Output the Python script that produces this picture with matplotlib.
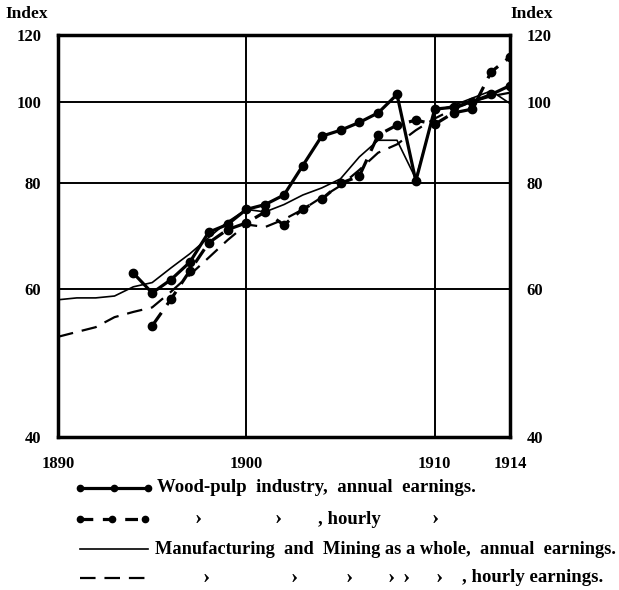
import matplotlib
matplotlib.use('Agg')
import matplotlib.pyplot as plt
from matplotlib.ticker import FixedLocator, NullLocator

plt.rcParams['font.family'] = ['Liberation Serif', 'DejaVu Serif']
plt.rcParams['font.weight'] = 'bold'

# data (index numbers)
wood_years = list(range(1894, 1915))
wood_annual = [62.6, 59.3, 61.5, 64.5, 70.0, 71.5, 74.5, 75.5, 77.5, 84.0, 91.0,
               92.5, 94.5, 97.0, 102.0, 80.5, 98.0, 98.5, 100.0, 102.0, 104.5]
wood_hourly_years = list(range(1895, 1915))
wood_hourly = [54.2, 58.3, 63.0, 68.0, 70.5, 71.8, 74.0, 71.4, 74.6, 76.6,
               80.0, 81.6, 91.3, 93.8, 95.1, 94.0, 97.0, 98.0, 108.5, 113.0]
manuf_years = list(range(1890, 1915))
manuf_annual = [58.2, 58.5, 58.5, 58.8, 60.3, 61.0, 63.5, 66.0, 69.0, 72.0, 74.5,
                74.0, 75.5, 77.5, 79.0, 81.0, 86.0, 90.0, 90.0, 81.0, 97.5,
                99.0, 101.0, 103.0, 99.5]
manuf_hourly = [52.6, 53.3, 54.0, 55.5, 56.3, 57.0, 59.5, 62.3, 65.3, 68.5, 71.5,
                71.0, 72.5, 74.5, 77.0, 79.5, 83.0, 87.0, 89.0, 92.5, 95.5,
                98.0, 100.0, 101.5, 102.5]

x_ticks = [1890, 1900, 1910, 1914]
y_ticks = [40, 60, 80, 100, 120]

fig = plt.figure(figsize=(6.19, 5.9), dpi=100)
ax = fig.add_axes([58 / 619, 1 - 437 / 590, 452 / 619, 402 / 590])

ax.plot(manuf_years, manuf_annual, color='black', lw=1.2)
ax.plot(manuf_years, manuf_hourly, color='black', lw=1.6, dashes=(7, 4))
ax.plot(wood_years, wood_annual, color='black', lw=2.3, marker='o', ms=6)
ax.plot(wood_hourly_years, wood_hourly, color='black', lw=2.3, dashes=(5, 3),
        marker='o', ms=6)

ax.set_yscale('log')
ax.set_xlim(1890, 1914)
ax.set_ylim(40, 120)
ax.xaxis.set_major_locator(FixedLocator(x_ticks))
ax.yaxis.set_major_locator(FixedLocator(y_ticks))
ax.yaxis.set_minor_locator(NullLocator())
ax.set_yticklabels([str(v) for v in y_ticks])
ax.set_xticklabels([str(v) for v in x_ticks])
ax.grid(True, color='black', lw=1.4)
ax.tick_params(axis='both', length=0, labelsize=12)
ax.tick_params(axis='y', labelright=True, pad=12)
ax.tick_params(axis='x', pad=14)
for s in ax.spines.values():
    s.set_linewidth(2.5)

fig.text(5 / 619, 1 - 14 / 590, 'Index', fontsize=12.5, va='center')
fig.text(510 / 619, 1 - 14 / 590, 'Index', fontsize=12.5, va='center')

# legend drawn in pixel space below the chart
lg = fig.add_axes([0, 0, 1, 1])
lg.set_xlim(0, 619)
lg.set_ylim(590, 0)
lg.axis('off')
rows = [488, 519, 549, 578]
lg.plot([80, 114, 148], [rows[0]] * 3, color='black', lw=2.3, marker='o', ms=4.5)
lg.plot([80, 112, 145], [rows[1]] * 3, color='black', lw=2.3, dashes=(4, 3),
        marker='o', ms=4.5)
lg.plot([80, 148], [rows[2]] * 2, color='black', lw=1.2)
lg.plot([80, 148], [rows[3]] * 2, color='black', lw=1.6, dashes=(7, 4))

fs = 13.5
lg.text(157, rows[0], 'Wood-pulp  industry,  annual  earnings.', fontsize=fs, va='center')
for x in [195, 275, 432]:
    lg.text(x, rows[1], '›', fontsize=fs + 2, va='center')
lg.text(318, rows[1], ', hourly', fontsize=fs, va='center')
lg.text(155, rows[2], 'Manufacturing  and  Mining as a whole,  annual  earnings.',
        fontsize=fs - 0.3, va='center')
for x in [203, 291, 346, 388, 403, 436]:
    lg.text(x, rows[3], '›', fontsize=fs + 2, va='center')
lg.text(462, rows[3], ', hourly earnings.', fontsize=fs, va='center')

fig.savefig('out.png', dpi=100)
